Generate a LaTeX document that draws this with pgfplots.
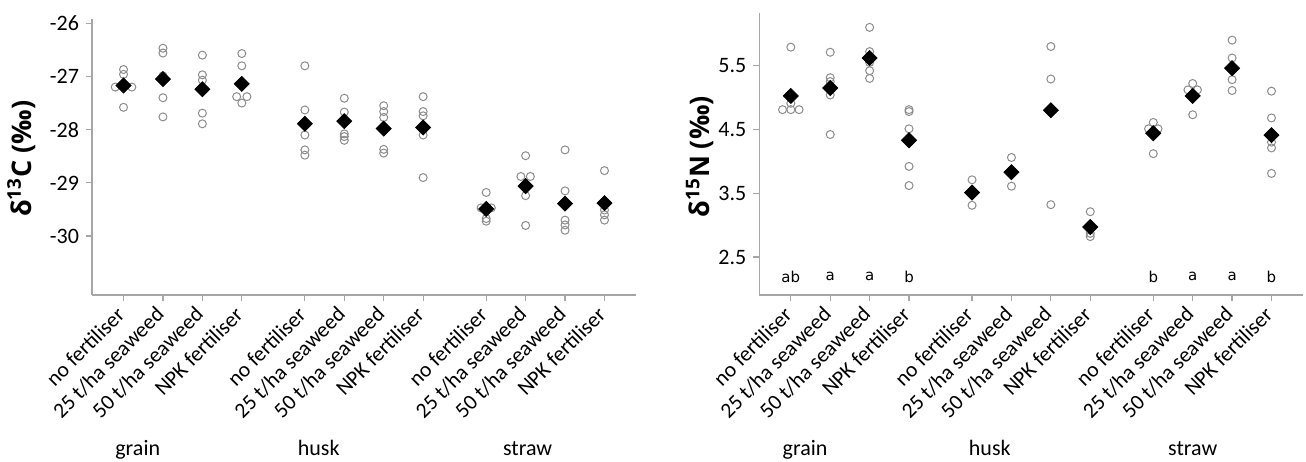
\documentclass[border=0pt]{standalone}
\usepackage{pgfplots}
\pgfplotsset{compat=1.18}
\usepackage{fontspec}
\setmainfont{Carlito}
\newfontfamily\letterfont{DejaVu Sans}
\newfontfamily\labelfont{Open Sans}
\definecolor{axgray}{HTML}{A6A6A6}
\definecolor{circgray}{HTML}{8C8C8C}
\pgfplotsset{
  panel/.style={
    scale only axis,
    anchor=south west,
    xmin=-0.8, xmax=13,
    axis x line*=bottom,
    axis y line*=left,
    axis line style={axgray, line width=0.6pt},
    every tick/.style={axgray, line width=0.6pt},
    major tick length=3pt,
    tick align=outside,
    xtick={0,1,2,3,4.6,5.6,6.6,7.6,9.2,10.2,11.2,12.2},
    xticklabels={no fertiliser,25 t/ha seaweed,50 t/ha seaweed,NPK fertiliser,no fertiliser,25 t/ha seaweed,50 t/ha seaweed,NPK fertiliser,no fertiliser,25 t/ha seaweed,50 t/ha seaweed,NPK fertiliser},
    xticklabel style={rotate=45, anchor=east, yshift=-2.5pt, xshift=-1pt, font=\fontsize{10.8}{12}\selectfont, text=black},
    yticklabel style={font=\fontsize{11}{12}\selectfont, text=black},
    clip=false,
  },
  circ/.style={only marks, mark=o, mark size=2pt, mark options={circgray, line width=0.5pt}},
  diam/.style={only marks, mark=square*, mark size=2.65pt, mark options={black, rotate=45}},
}
\begin{document}
\begin{tikzpicture}
\useasboundingbox (0,0) rectangle (653pt,230.5pt);
% ---------------- left panel: delta 13C ----------------
\begin{axis}[panel,
  at={(46pt,83pt)}, width=272pt, height=137.75pt,
  ymin=-31.107, ymax=-25.93,
  ytick={-26,-27,-28,-29,-30},
  yticklabels={-26,-27,-28,-29,-30},
  ylabel={δ\textsuperscript{13}C (‰)},
  ylabel style={at={(axis description cs:-0.13,0.495)}, anchor=center, font=\labelfont\bfseries\fontsize{13.5}{15}\selectfont},
]
\addplot[circ] table {
x y
-0.0 -26.87
0.0 -26.96
-0.21 -27.20
0.21 -27.20
0.0 -27.17
0.0 -27.58
1 -26.47
1 -26.56
1 -26.99
1 -27.40
1 -27.76
2 -26.60
2 -26.97
2 -27.07
2 -27.69
2 -27.89
3 -26.57
3 -26.80
2.87 -27.38
3.13 -27.38
3 -27.50
4.6 -26.80
4.6 -27.63
4.6 -28.10
4.6 -28.38
4.6 -28.48
5.6 -27.41
5.6 -27.67
5.6 -28.08
5.6 -28.13
5.6 -28.20
6.6 -27.55
6.6 -27.66
6.6 -27.77
6.6 -28.37
6.6 -28.44
7.6 -27.38
7.6 -27.66
7.6 -27.74
7.6 -28.10
7.6 -28.90
9.2 -29.18
9.07 -29.47
9.33 -29.47
9.2 -29.67
9.2 -29.72
10.2 -28.49
10.08 -28.88
10.32 -28.88
10.2 -29.24
10.2 -29.80
11.2 -28.38
11.2 -29.15
11.2 -29.70
11.2 -29.79
11.2 -29.89
12.2 -28.77
12.2 -29.42
12.2 -29.51
12.2 -29.60
12.2 -29.70
};
\addplot[diam] table {
x y
0 -27.17
1 -27.05
2 -27.24
3 -27.14
4.6 -27.89
5.6 -27.84
6.6 -27.98
7.6 -27.96
9.2 -29.49
10.2 -29.06
11.2 -29.39
12.2 -29.38
};
\node[anchor=base, yshift=-80pt, font=\fontsize{11}{13}\selectfont] at (axis cs:0.36,-31.107) {grain};
\node[anchor=base, yshift=-80pt, font=\fontsize{11}{13}\selectfont] at (axis cs:4.95,-31.107) {husk};
\node[anchor=base, yshift=-80pt, font=\fontsize{11}{13}\selectfont] at (axis cs:10.25,-31.107) {straw};
\end{axis}
% ---------------- right panel: delta 15N ----------------
\begin{axis}[panel,
  at={(379.65pt,83pt)}, width=271.85pt, height=141.15pt,
  ymin=1.904, ymax=6.33,
  ytick={2.5,3.5,4.5,5.5},
  yticklabels={2.5,3.5,4.5,5.5},
  ylabel={δ\textsuperscript{15}N (‰)},
  ylabel style={at={(axis description cs:-0.109,0.49)}, anchor=center, font=\labelfont\bfseries\fontsize{13.5}{15}\selectfont},
]
\addplot[circ] table {
x y
0 5.79
-0.21 4.81
0 4.81
0.21 4.81
0 4.91
1 5.71
1 5.31
1 5.25
1 5.04
1 4.42
2 6.10
2 5.72
2 5.55
2 5.42
2 5.30
3 4.81
3 4.78
3 4.51
3 3.92
3 3.62
4.6 3.71
4.6 3.51
4.6 3.31
5.6 4.06
5.6 3.83
5.6 3.61
6.6 5.80
6.6 5.29
6.6 3.32
7.6 3.21
7.6 2.87
7.6 2.82
9.2 4.61
9.08 4.51
9.32 4.51
9.2 4.12
10.2 5.22
10.08 5.12
10.32 5.12
10.2 4.73
11.2 5.90
11.2 5.62
11.2 5.28
11.2 5.11
12.2 5.10
12.2 4.68
12.2 4.30
12.2 4.21
12.2 3.81
};
\addplot[diam] table {
x y
0 5.025
1 5.15
2 5.62
3 4.33
4.6 3.51
5.6 3.83
6.6 4.80
7.6 2.97
9.2 4.44
10.2 5.025
11.2 5.46
12.2 4.41
};
\addplot[draw=none, mark=none, nodes near coords, point meta=explicit symbolic,
  every node near coord/.append style={anchor=center, font=\letterfont\fontsize{7.5}{9}\selectfont, text=black}]
  table[meta=l] {
x y l
0 2.19 ab
1 2.19 a
2 2.19 a
3 2.19 b
9.2 2.19 b
10.2 2.19 a
11.2 2.19 a
12.2 2.19 b
};
\node[anchor=base, yshift=-80pt, font=\fontsize{11}{13}\selectfont] at (axis cs:0.36,1.904) {grain};
\node[anchor=base, yshift=-80pt, font=\fontsize{11}{13}\selectfont] at (axis cs:5.05,1.904) {husk};
\node[anchor=base, yshift=-80pt, font=\fontsize{11}{13}\selectfont] at (axis cs:10.2,1.904) {straw};
\end{axis}
\end{tikzpicture}
\end{document}
